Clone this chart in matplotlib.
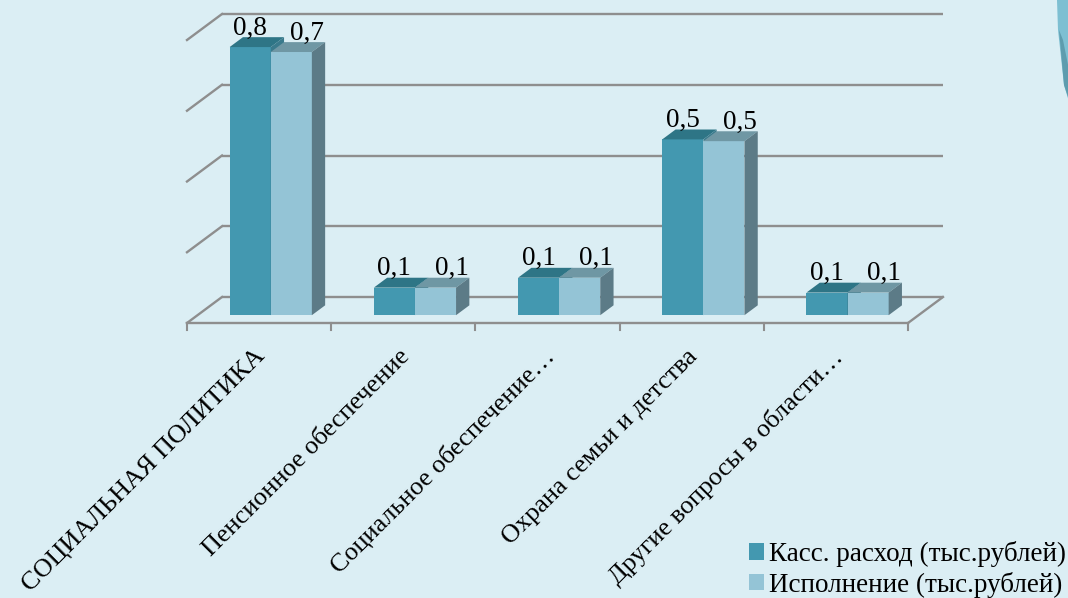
import matplotlib
matplotlib.use("Agg")
import matplotlib.pyplot as plt
from matplotlib.patches import Polygon, Patch

# ---- data ----
categories = ["СОЦИАЛЬНАЯ ПОЛИТИКА", "Пенсионное обеспечение", "Социальное обеспечение…",
              "Охрана семьи и детства", "Другие вопросы в области…"]
kass = [0.758, 0.078, 0.106, 0.497, 0.064]
ispoln = [0.744, 0.078, 0.106, 0.492, 0.064]
series_names = ["Касс. расход (тыс.рублей)", "Исполнение (тыс.рублей)"]
grid_vals = [0.0, 0.2, 0.4, 0.6, 0.8]

# ---- style ----
BG = "#DBEEF4"
front_cols = ["#4398B0", "#94C4D6"]
top_cols = ["#2E7586", "#6F97A4"]
side_cols = ["#3A7A8C", "#5C7B87"]
GRID = "#8E8E8E"
FONT = "Liberation Serif"
FS = 19.5
FS_CAT = 18.8

W, H, DPI = 1068, 598, 100
fig = plt.figure(figsize=(W / DPI, H / DPI), dpi=DPI, facecolor=BG)
ax = fig.add_axes([0, 0, 1, 1])
ax.set_facecolor(BG)
ax.axis("off")

# linear mapping: category units / value units
PX_CAT = 144.2
PX_VAL = 353.75
X0PX, Y0PX = 187.0, 323.0
ax.set_xlim(-X0PX / PX_CAT - 0.5, (W - X0PX) / PX_CAT - 0.5)
ax.set_ylim((Y0PX - H) / PX_VAL, Y0PX / PX_VAL)

DX = 35.0 / PX_CAT   # depth offset (full depth) in x units
DY = 26.0 / PX_VAL   # depth offset in value units
n = len(categories)
xl, xr = -0.5, n - 0.5


def P(x, v, d):
    return (x + d * DX, v + d * DY)


# back wall gridlines and left wall lines
for g in grid_vals:
    ax.plot(*zip(P(xl, g, 1), P(xr, g, 1)), color=GRID, lw=1.7, zorder=1, solid_capstyle="butt")
    ax.plot(*zip(P(xl, g, 0), P(xl, g, 1)), color=GRID, lw=1.7, zorder=1)
# floor
ax.plot(*zip(P(xl, 0, 0), P(xr, 0, 0)), color=GRID, lw=1.7, zorder=1)
ax.plot(*zip(P(xr, 0, 0), P(xr, 0, 1)), color=GRID, lw=1.7, zorder=1)
tick_len = 7.0 / PX_VAL
for k in range(n + 1):
    x = xl + k
    ax.plot([x, x], [0, -tick_len], color=GRID, lw=1.5, zorder=1)

# bars
w = 0.285
d0, d1 = 0.30, 0.68
for i in range(n):
    for s, vals in enumerate([kass, ispoln]):
        v = vals[i]
        x0 = i + 0.008 - w + s * w
        x1 = x0 + w
        z = 3 + s
        ax.add_patch(Polygon([P(x0, 0, d0), P(x1, 0, d0), P(x1, v, d0), P(x0, v, d0)],
                             closed=True, facecolor=front_cols[s], edgecolor="none", zorder=z))
        ax.add_patch(Polygon([P(x0, v, d0), P(x1, v, d0), P(x1, v, d1), P(x0, v, d1)],
                             closed=True, facecolor=top_cols[s], edgecolor="none", zorder=z))
        ax.add_patch(Polygon([P(x1, 0, d0), P(x1, v, d0), P(x1, v, d1), P(x1, 0, d1)],
                             closed=True, facecolor=side_cols[s], edgecolor="none", zorder=z))
        lx, ly = P((x0 + x1) / 2, v, d0)
        ax.annotate(f"{v:.1f}".replace(".", ","), (lx, ly),
                    xytext=(0 if s == 0 else 11.5, 9.0), textcoords="offset points",
                    ha="center", va="baseline", fontsize=FS, family=FONT, color="black", zorder=10)

# category labels
for i, c in enumerate(categories):
    ax.annotate(c, (i, 0), xytext=(-3.5, -16), textcoords="offset points",
                rotation=45, rotation_mode="anchor", ha="right", va="top",
                fontsize=FS_CAT, family=FONT, color="black")

# legend
handles = [Patch(facecolor=front_cols[0], edgecolor="none"),
           Patch(facecolor=front_cols[1], edgecolor="none")]
fig.legend(handles, series_names, loc="upper left", bbox_to_anchor=(749 / W, 1 - 541 / H),
           frameon=False, prop={"family": FONT, "size": FS}, handlelength=0.55, handleheight=0.55,
           handletextpad=0.2, labelspacing=0.18, borderpad=0, borderaxespad=0)

# decorative shape at top right
fig.patches.append(Polygon([(1057 / W, 1), (1.001, 1), (1.001, 1 - 102 / H), (1064 / W, 1 - 85 / H),
                            (1058 / W, 1 - 30 / H)], closed=True, transform=fig.transFigure,
                           facecolor="#7DBFD2", edgecolor="none"))
fig.patches.append(Polygon([(1059 / W, 1 - 30 / H), (1063 / W, 1 - 40 / H), (1.001, 1 - 70 / H),
                            (1.001, 1 - 100 / H), (1064 / W, 1 - 85 / H)],
                           closed=True, transform=fig.transFigure, facecolor="#5E9CAE", edgecolor="none"))

fig.savefig("out.png", dpi=DPI, facecolor=BG)
